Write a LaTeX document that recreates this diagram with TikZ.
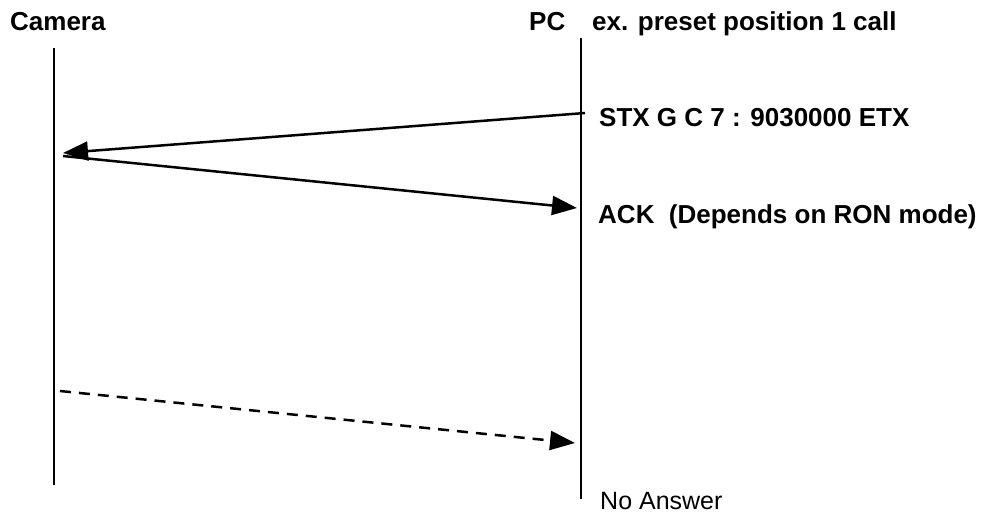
\documentclass[tikz,border=0pt]{standalone}
\usepackage{fontspec}
\setmainfont{Liberation Sans}
\usetikzlibrary{arrows.meta}
\begin{document}
\begin{tikzpicture}[x=1pt,y=-1pt,
  lifeline/.style={line width=2pt},
  msg/.style={line width=2.5pt,-{Triangle[length=25pt,width=19pt]}},
  reply/.style={msg,dash pattern=on 11pt off 8pt},
  title/.style={anchor=base west,inner sep=0pt,font=\fontsize{26}{30}\selectfont\bfseries},
  label/.style={anchor=base west,inner sep=0pt,font=\fontsize{26}{30}\selectfont\bfseries},
  note/.style={anchor=base west,inner sep=0pt,font=\fontsize{25}{29}\selectfont}]
\useasboundingbox (0,0) rectangle (992,515);

% titles
\node[title] (camtitle) at (10,30) {Camera};
\node[title] (pctitle) at (529,30) {PC};
\node[title] (extitle) at (592,30) {ex. preset position 1 call};

% lifelines
\coordinate (camtop) at (54,48);
\coordinate (cambot) at (54,485);
\coordinate (pctop) at (581,38);
\coordinate (pcbot) at (581,499);
\draw[lifeline] (camtop) -- (cambot);
\draw[lifeline] (pctop) -- (pcbot);

% message end points
\coordinate (cmdsrc) at (585,113);
\coordinate (cmddst) at (63,153);
\coordinate (acksrc) at (63,156);
\coordinate (ackdst) at (577,208);
\coordinate (nasrc) at (60,391);
\coordinate (nadst) at (575,443);

\draw[msg] (cmdsrc) -- (cmddst);
\draw[msg] (acksrc) -- (ackdst);
\draw[reply] (nasrc) -- (nadst);

% labels
\node[label] (cmdlabel) at (599,126) {STX G C 7 : 9030000 ETX};
\node[label] (acklabel) at (598,223) {ACK\ \ (Depends on RON mode)};
\node[note] (nalabel) at (600,509) {No Answer};
\end{tikzpicture}
\end{document}
